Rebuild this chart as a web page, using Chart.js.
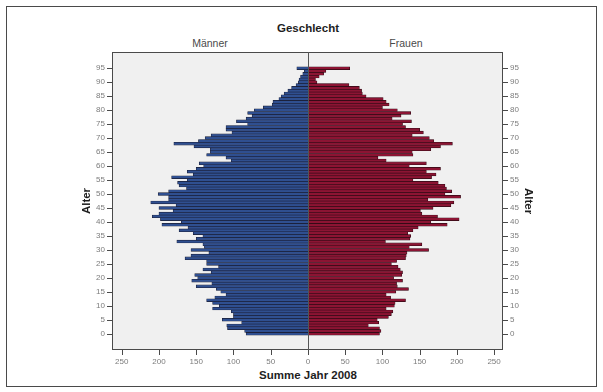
<!DOCTYPE html>
<html>
<head>
<meta charset="utf-8">
<script src="https://cdn.jsdelivr.net/npm/chart.js@4/dist/chart.umd.min.js"></script>
<style>
  html, body { margin: 0; padding: 0; background: #fff; }
  body { width: 603px; height: 392px; position: relative; overflow: hidden;
         font-family: "Liberation Sans", Arial, Helvetica, sans-serif; }
  #outer { position: absolute; left: 6px; top: 6px; width: 589px; height: 379px;
           border: 1px solid #4a4a4a; box-sizing: content-box; }
  .lbl { position: absolute; text-align: center; white-space: nowrap;
         line-height: 14px; height: 14px; width: 200px; }
  .bold { font-weight: bold; font-size: 11.5px; color: #1e1e1e; }
  .sub { font-size: 10.5px; color: #4a4a4a; }
  canvas { position: absolute; top: 0; }
  #center { position: absolute; left: 308px; top: 52px; width: 1px; height: 298px; background: #555; }
</style>
</head>
<body>
<div id="outer"></div>
<div class="lbl bold" style="left:208px; top:21px;">Geschlecht</div>
<div class="lbl sub" style="left:110px; top:36px;">Männer</div>
<div class="lbl sub" style="left:306px; top:36px;">Frauen</div>
<div class="lbl bold" style="left:208px; top:368px;">Summe Jahr 2008</div>
<canvas id="men" width="308" height="392" style="left:0px;"></canvas>
<canvas id="women" width="295" height="392" style="left:308px;"></canvas>
<div id="center"></div>
<script>
// Age groups (years) and head counts per sex, year 2008
const ages = [
  0, 1, 2, 3, 4, 5, 6, 7, 8, 9,
  10, 11, 12, 13, 14, 15, 16, 17, 18, 19,
  20, 21, 22, 23, 24, 25, 26, 27, 28, 29,
  30, 31, 32, 33, 34, 35, 36, 37, 38, 39,
  40, 41, 42, 43, 44, 45, 46, 47, 48, 49,
  50, 51, 52, 53, 54, 55, 56, 57, 58, 59,
  60, 61, 62, 63, 64, 65, 66, 67, 68, 69,
  70, 71, 72, 73, 74, 75, 76, 77, 78, 79,
  80, 81, 82, 83, 84, 85, 86, 87, 88, 89,
  90, 91, 92, 93, 94, 95
];

const maleCounts = [
  83, 85, 108, 109, 89, 115, 100, 100, 103, 128,
  119, 128, 136, 125, 110, 117, 123, 150, 129, 156,
  148, 152, 130, 141, 120, 136, 136, 165, 157, 133,
  157, 139, 141, 176, 150, 141, 154, 173, 161, 196,
  170, 198, 209, 200, 181, 200, 177, 211, 187, 187,
  201, 187, 163, 173, 175, 162, 183, 154, 162, 150,
  140, 146, 103, 110, 136, 131, 131, 153, 180, 147,
  138, 130, 102, 110, 110, 81, 96, 83, 75, 81,
  72, 60, 48, 47, 39, 36, 32, 27, 22, 16,
  13, 12, 10, 7, 5, 15
];

const femaleCounts = [
  96, 98, 96, 81, 95, 93, 108, 112, 114, 105,
  116, 117, 131, 111, 105, 118, 135, 120, 119, 127,
  115, 126, 127, 124, 121, 112, 119, 131, 132, 133,
  162, 136, 153, 104, 137, 138, 134, 141, 148, 187,
  165, 203, 174, 153, 151, 168, 192, 196, 161, 205,
  184, 193, 186, 184, 175, 141, 166, 172, 159, 178,
  136, 159, 105, 94, 141, 140, 165, 178, 194, 169,
  163, 140, 155, 150, 131, 127, 139, 113, 125, 138,
  120, 100, 109, 105, 101, 78, 73, 72, 69, 55,
  12, 10, 15, 21, 24, 56
];

const countTicks = [0, 50, 100, 150, 200, 250];
const ageTicks = [0, 5, 10, 15, 20, 25, 30, 35, 40, 45, 50, 55, 60, 65, 70, 75, 80, 85, 90, 95];

const FONT = "'Liberation Sans', Arial, Helvetica, sans-serif";
const AXIS_COLOR = '#4a4a4a';
const TICK_COLOR = '#7c7c7c';
const TICK_LEN = 5;

// light grey plot background, the frame around the plot area and the tick marks
const plotFrame = {
  id: 'plotFrame',
  beforeDraw(chart) {
    const { ctx, chartArea: a } = chart;
    ctx.save();
    ctx.fillStyle = '#f0f0f0';
    ctx.fillRect(a.left, a.top, a.right - a.left, a.bottom - a.top);
    ctx.restore();
  },
  afterDraw(chart) {
    const { ctx, chartArea: a, scales } = chart;
    const l = Math.round(a.left) + 0.5, r = Math.round(a.right) - 0.5;
    const t = Math.round(a.top) + 0.5, b = Math.round(a.bottom) - 0.5;
    const leftSide = scales.y.options.position === 'left';
    ctx.save();
    ctx.strokeStyle = AXIS_COLOR;
    ctx.lineWidth = 1;
    ctx.beginPath();
    ctx.moveTo(a.left, t); ctx.lineTo(a.right, t);
    ctx.moveTo(a.left, b); ctx.lineTo(a.right, b);
    if (leftSide) {
      ctx.moveTo(l, a.top); ctx.lineTo(l, a.bottom);
    } else {
      ctx.moveTo(r, a.top); ctx.lineTo(r, a.bottom);
    }
    scales.y.ticks.forEach(tk => {
      const y = Math.round(scales.y.getPixelForValue(tk.value)) + 0.5;
      if (leftSide) { ctx.moveTo(a.left - TICK_LEN, y); ctx.lineTo(a.left, y); }
      else { ctx.moveTo(a.right, y); ctx.lineTo(a.right + TICK_LEN, y); }
    });
    scales.x.ticks.forEach(tk => {
      const x = Math.round(scales.x.getPixelForValue(tk.value)) + 0.5;
      ctx.moveTo(x, a.bottom); ctx.lineTo(x, a.bottom + TICK_LEN);
    });
    ctx.stroke();
    ctx.restore();
  }
};

function keepTicks(values) {
  return (axis) => {
    axis.ticks = values.map(v => ({ value: v }));
  };
}

function noPadding(s) {
  s.paddingLeft = 0; s.paddingRight = 0; s.paddingTop = 0; s.paddingBottom = 0;
}

function countAxis(reverse, maxVal) {
  return {
    type: 'linear',
    position: 'bottom',
    reverse: reverse,
    offset: false,
    min: 0,
    max: maxVal,
    afterBuildTicks: keepTicks(countTicks),
    afterFit: (s) => { s.height = 42; noPadding(s); },
    grid: { display: false, drawTicks: false, tickLength: TICK_LEN },
    border: { display: false },
    ticks: { font: { family: FONT, size: 8 }, color: TICK_COLOR, padding: 2 + TICK_LEN, maxRotation: 0, autoSkip: false }
  };
}

function ageAxis(position, width, titlePad) {
  return {
    type: 'linear',
    position: position,
    offset: false,
    min: -5.8,
    max: 100.8,
    afterBuildTicks: keepTicks(ageTicks),
    afterFit: (s) => { s.width = width; noPadding(s); },
    grid: { display: false, drawTicks: false, tickLength: TICK_LEN },
    border: { display: false },
    ticks: { font: { family: FONT, size: 8 }, color: TICK_COLOR, padding: 2 + TICK_LEN, autoSkip: false },
    title: { display: true, text: 'Alter', color: '#1e1e1e',
             font: { family: FONT, size: 11.5, weight: 'bold' },
             padding: { top: titlePad, bottom: 0 } }
  };
}

function pyramidChart(canvasId, counts, fill, edge, xAxis, yAxis) {
  return new Chart(document.getElementById(canvasId), {
    type: 'bar',
    data: {
      datasets: [{
        data: ages.map((a, i) => ({ y: a, x: counts[i] })),
        backgroundColor: fill,
        borderColor: edge,
        borderWidth: 0.6,
        borderSkipped: 'start',
        barPercentage: 1,
        categoryPercentage: 1
      }]
    },
    options: {
      indexAxis: 'y',
      responsive: false,
      animation: false,
      layout: { padding: { top: 52, right: 0, bottom: 0, left: 0 } },
      plugins: { legend: { display: false }, tooltip: { enabled: false }, title: { display: false } },
      scales: { x: xAxis, y: yAxis }
    },
    plugins: [plotFrame]
  });
}

// Männer: counts grow to the left
pyramidChart('men', maleCounts, '#2f4f90', '#1a1d33',
  countAxis(true, 263), ageAxis('left', 112, 80));

// Frauen: counts grow to the right
pyramidChart('women', femaleCounts, '#8c1433', '#2c0a14',
  countAxis(false, 262), ageAxis('right', 100, 68));
</script>
</body>
</html>
